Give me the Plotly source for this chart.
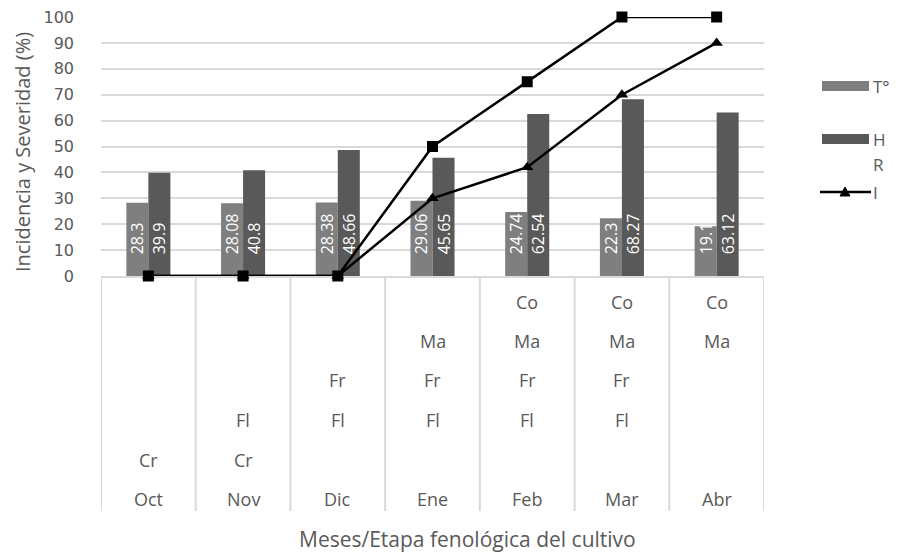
import plotly.graph_objects as go

months = ["Oct", "Nov", "Dic", "Ene", "Feb", "Mar", "Abr"]
temp = [28.3, 28.08, 28.38, 29.06, 24.74, 22.3, 19.17]
hum = [39.9, 40.8, 48.66, 45.65, 62.54, 68.27, 63.12]
sev = [0, 0, 0, 50, 75, 100, 100]
inc = [0, 0, 0, 30, 42, 70, 90]
# phenological stages per month
stages = {
    "Oct": ["Cr"],
    "Nov": ["Fl", "Cr"],
    "Dic": ["Fr", "Fl"],
    "Ene": ["Ma", "Fr", "Fl"],
    "Feb": ["Co", "Ma", "Fr", "Fl"],
    "Mar": ["Co", "Ma", "Fr", "Fl"],
    "Abr": ["Co", "Ma"],
}

# page body has an 8px margin; figure is sized to fit the window
OFF = 8
W, H = 898 - OFF, 554 - OFF
L, R, T, B = 101, 764, 17, 276  # in window pixels
PW, PH = R - L, B - T

def px(x):
    return (x - L) / PW

def py(y):
    return (B - y) / PH

GRAY = "#595959"
FONT = "Open Sans"
PAD = "\u2003\u2009"

fig = go.Figure()
fig.add_trace(go.Bar(x=months, y=temp, name="T°", marker=dict(color="#7f7f7f", line=dict(width=0)),
                     texttemplate=PAD + "%{y}", textposition="inside", insidetextanchor="start",
                     textangle=-90, constraintext="none",
                     textfont=dict(color="white", size=16, family=FONT), showlegend=False))
fig.add_trace(go.Bar(x=months, y=hum, name="H R", marker=dict(color="#595959", line=dict(width=0)),
                     texttemplate=PAD + "%{y}", textposition="inside", insidetextanchor="start",
                     textangle=-90, constraintext="none",
                     textfont=dict(color="white", size=16, family=FONT), showlegend=False))
fig.add_trace(go.Scatter(x=months, y=inc, name="I", mode="lines+markers", cliponaxis=False,
                         line=dict(color="black", width=2.5),
                         marker=dict(symbol="triangle-up", size=11, color="black"), showlegend=False))
fig.add_trace(go.Scatter(x=months, y=sev, name="S", mode="lines+markers", cliponaxis=False,
                         line=dict(color="black", width=2.5),
                         marker=dict(symbol="square", size=11, color="black"), showlegend=False))

shapes = []
annotations = []

def ann(**kw):
    base = dict(showarrow=False, xanchor="center", yanchor="middle")
    base.update(kw)
    annotations.append(base)

# category table vertical lines
for i in range(len(months) + 1):
    shapes.append(dict(type="line", xref="x", yref="paper", x0=i - 0.5, x1=i - 0.5,
                       y0=0, y1=py(511), line=dict(color="#d9d9d9", width=2), layer="below"))
row_y = {"Co": 302, "Ma": 341, "Fr": 380, "Fl": 420, "Cr": 460}
for m in months:
    for s in stages[m]:
        ann(x=m, y=py(row_y[s]), xref="x", yref="paper", text=s,
            font=dict(size=18, color=GRAY, family=FONT))
    ann(x=m, y=py(499), xref="x", yref="paper", text=m,
        font=dict(size=18, color=GRAY, family=FONT))

# x axis title
ann(x=px(467), y=py(539), xref="paper", yref="paper",
    text="Meses/Etapa fenológica del cultivo", font=dict(size=21, color=GRAY, family=FONT))
# y axis title
ann(x=px(22), y=py(152), xref="paper", yref="paper",
    text="Incidencia y Severidad (%)", textangle=-90, font=dict(size=20, color=GRAY, family=FONT))

# custom legend
LX = -5
shapes.append(dict(type="rect", xref="paper", yref="paper", x0=px(827 + LX), x1=px(874 + LX),
                   y0=py(91), y1=py(81), fillcolor="#7f7f7f", line=dict(width=0)))
shapes.append(dict(type="rect", xref="paper", yref="paper", x0=px(827 + LX), x1=px(874 + LX),
                   y0=py(144), y1=py(134), fillcolor="#595959", line=dict(width=0)))
shapes.append(dict(type="line", xref="paper", yref="paper", x0=px(825 + LX), x1=px(876 + LX),
                   y0=py(192), y1=py(192), line=dict(color="black", width=2.5)))
tri = (f"M {px(845 + LX)} {py(196)} L {px(855 + LX)} {py(196)} "
       f"L {px(850 + LX)} {py(187)} Z")
shapes.append(dict(type="path", xref="paper", yref="paper", path=tri,
                   fillcolor="black", line=dict(color="black", width=1)))
for txt, yy in [("T°", 86), ("H", 139), ("R", 164), ("I", 192)]:
    ann(x=px(876 + LX), y=py(yy), xref="paper", yref="paper", text=txt, xanchor="left",
        font=dict(size=17, color=GRAY, family=FONT))

fig.update_layout(
    width=W, height=H,
    margin=dict(l=L - OFF, r=W - (R - OFF), t=T - OFF, b=H - (B - OFF), autoexpand=False),
    paper_bgcolor="white", plot_bgcolor="white",
    barmode="group", bargap=0.535, bargroupgap=0,
    shapes=shapes, annotations=annotations,
    font=dict(family=FONT, color=GRAY),
)
fig.update_xaxes(showticklabels=False, showgrid=False, showline=True, linecolor="#d9d9d9",
                 linewidth=2, ticks="", range=[-0.5, 6.5], zeroline=False, automargin=False,
                 layer="below traces")
fig.update_yaxes(range=[0, 100], dtick=10, showgrid=True, gridcolor="#d9d9d9", gridwidth=2,
                 zeroline=False, showline=False, ticks="", ticklabelstandoff=26,
                 automargin=False, ticklabeloverflow="allow", layer="below traces",
                 tickfont=dict(size=16, color=GRAY, family="DejaVu Sans"))

fig.write_html("out.html")
